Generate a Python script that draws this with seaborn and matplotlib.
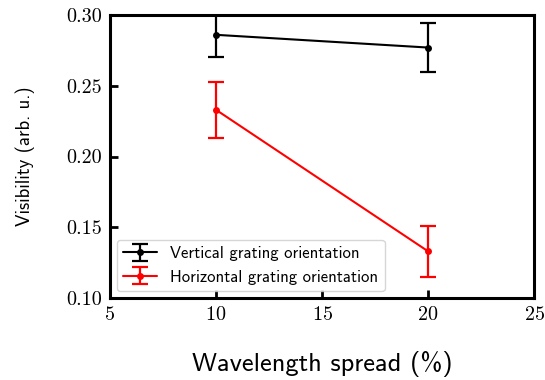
import matplotlib
matplotlib.use("Agg")
import matplotlib.pyplot as plt
import seaborn as sns
import pandas as pd
from matplotlib.legend_handler import HandlerTuple

spread = [10, 20]
vertical = [0.286, 0.277]
vertical_err = [0.016, 0.017]
horizontal = [0.233, 0.133]
horizontal_err = [0.020, 0.018]
labels = ["Vertical grating orientation", "Horizontal grating orientation"]
colors = ["black", "red"]

sns.set_style("ticks", {"axes.edgecolor": "black", "text.color": "black",
                        "xtick.color": "black", "ytick.color": "black",
                        "axes.labelcolor": "black"})
plt.rcParams["axes.formatter.use_mathtext"] = True

fig = plt.figure(figsize=(5.45, 3.8), dpi=100)
ax = fig.add_axes([0.2018, 0.2158, 0.7782, 0.7447])

handles = []
for y, e, lab, c in [(vertical, vertical_err, labels[0], colors[0]),
                     (horizontal, horizontal_err, labels[1], colors[1])]:
    df = pd.DataFrame({"x": spread, "y": y})
    sns.lineplot(data=df, x="x", y="y", ax=ax, color=c, marker="o",
                 markersize=5, markeredgewidth=0, linewidth=1.5, legend=False)
    line = ax.lines[-1]
    cont = ax.errorbar(spread, y, yerr=e, fmt="none", ecolor=c,
                       elinewidth=1.6, capsize=6, capthick=1.6)
    handles.append((cont, line))

ax.set_xlim(5, 25)
ax.set_ylim(0.10, 0.30)
ax.set_xticks([5, 10, 15, 20, 25])
ax.set_yticks([0.10, 0.15, 0.20, 0.25, 0.30])
ax.set_yticklabels(["0.10", "0.15", "0.20", "0.25", "0.30"])
ax.tick_params(direction="in", length=6, width=2, labelsize=14.5, pad=6, colors="black")
for lbl in ax.get_xticklabels() + ax.get_yticklabels():
    lbl.set_fontfamily("cmr10")
for s in ax.spines.values():
    s.set_linewidth(2.2)
    s.set_color("black")
    s.set_visible(True)

ax.set_xlabel("Wavelength spread (%)", fontfamily="cmss10", fontsize=19, labelpad=19, color="black")
ax.set_ylabel("Visibility (arb. u.)", fontfamily="cmss10", fontsize=13.5, labelpad=22, color="black")

leg = ax.legend(handles, labels, loc="lower left", handler_map={tuple: HandlerTuple(ndivide=1)},
                prop={"family": "cmss10", "size": 12}, frameon=True, fancybox=True,
                edgecolor="#cccccc", borderaxespad=0.4, handlelength=2.0)
for t in leg.get_texts():
    t.set_color("black")

fig.savefig("out.png", dpi=100)
